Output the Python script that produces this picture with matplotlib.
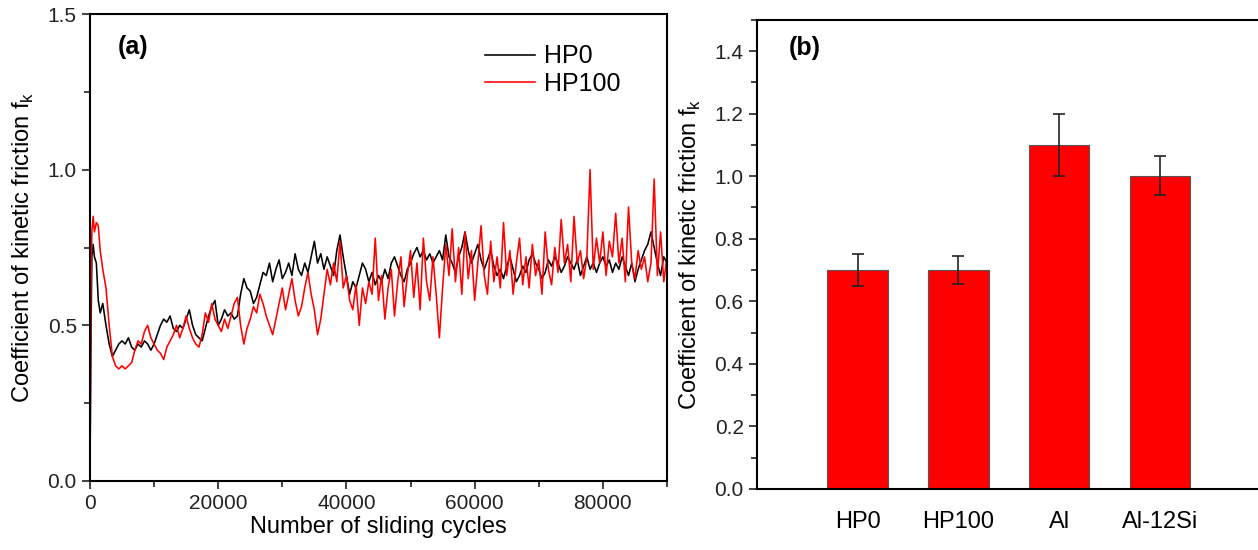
import numpy as np
import matplotlib
matplotlib.use("Agg")
import matplotlib.pyplot as plt
from matplotlib.ticker import MultipleLocator

plt.rcParams["font.family"] = ["Liberation Sans", "DejaVu Sans"]

# ================= DATA (a) =================
# running-in part, read point by point
EARLY_CYCLES = [0, 150, 300, 500, 700, 1000, 1300, 1600]
HP0_EARLY = [0.00, 0.45, 0.72, 0.76, 0.72, 0.70, 0.58, 0.54]
HP100_EARLY = [0.00, 0.60, 0.80, 0.85, 0.80, 0.83, 0.82, 0.74]

# steady part, one reading every 500 cycles from 2000 on
STEP_START = 2000
STEP = 500
HP0_VALS = [
    0.57, 0.50, 0.44, 0.40, 0.42, 0.44, 0.45, 0.44, 0.46, 0.43,
    0.42, 0.44, 0.43, 0.45, 0.44, 0.42, 0.44, 0.47, 0.50, 0.52,
    0.51, 0.53, 0.49, 0.48, 0.50, 0.49, 0.52, 0.55, 0.50, 0.47,
    0.46, 0.45, 0.49, 0.53, 0.56, 0.58, 0.50, 0.52, 0.55, 0.53,
    0.54, 0.52, 0.53, 0.60, 0.65, 0.62, 0.61, 0.57, 0.59, 0.63,
    0.67, 0.66, 0.70, 0.64, 0.68, 0.71, 0.65, 0.67, 0.70, 0.66,
    0.73, 0.68, 0.66, 0.70, 0.67, 0.72, 0.77, 0.70, 0.73, 0.68,
    0.72, 0.69, 0.66, 0.74, 0.79, 0.72, 0.66, 0.60, 0.64, 0.62,
    0.66, 0.70, 0.68, 0.64, 0.67, 0.63, 0.66, 0.64, 0.68, 0.65,
    0.70, 0.72, 0.69, 0.66, 0.64, 0.68, 0.70, 0.73, 0.75, 0.72,
    0.74, 0.71, 0.73, 0.70, 0.72, 0.74, 0.71, 0.79, 0.72, 0.70,
    0.67, 0.72, 0.75, 0.80, 0.74, 0.70, 0.73, 0.76, 0.71, 0.68,
    0.71, 0.74, 0.69, 0.66, 0.68, 0.65, 0.69, 0.72, 0.68, 0.64,
    0.66, 0.69, 0.67, 0.71, 0.73, 0.70, 0.68, 0.65, 0.67, 0.71,
    0.69, 0.72, 0.70, 0.67, 0.69, 0.72, 0.70, 0.68, 0.71, 0.66,
    0.69, 0.72, 0.68, 0.70, 0.67, 0.70, 0.72, 0.69, 0.71, 0.67,
    0.70, 0.68, 0.72, 0.69, 0.66, 0.70, 0.64, 0.68, 0.71, 0.74,
    0.76, 0.80, 0.75, 0.70, 0.66, 0.72, 0.70,
]
HP100_VALS = [
    0.68, 0.62, 0.50, 0.40, 0.37, 0.36, 0.37, 0.36, 0.37, 0.38,
    0.42, 0.45, 0.44, 0.48, 0.50, 0.46, 0.44, 0.42, 0.41, 0.39,
    0.43, 0.45, 0.47, 0.50, 0.46, 0.49, 0.53, 0.49, 0.46, 0.44,
    0.43, 0.47, 0.54, 0.51, 0.57, 0.52, 0.50, 0.48, 0.52, 0.49,
    0.53, 0.57, 0.59, 0.50, 0.44, 0.49, 0.52, 0.56, 0.54, 0.60,
    0.57, 0.53, 0.50, 0.47, 0.52, 0.57, 0.62, 0.55, 0.60, 0.65,
    0.58, 0.53, 0.56, 0.62, 0.67, 0.60, 0.55, 0.47, 0.52, 0.60,
    0.68, 0.63, 0.70, 0.64, 0.77, 0.62, 0.66, 0.58, 0.55, 0.63,
    0.50, 0.62, 0.57, 0.64, 0.60, 0.78, 0.58, 0.66, 0.52, 0.62,
    0.68, 0.53, 0.64, 0.72, 0.56, 0.66, 0.74, 0.59, 0.70, 0.55,
    0.78, 0.64, 0.58, 0.72, 0.60, 0.46, 0.62, 0.76, 0.66, 0.81,
    0.64, 0.75, 0.60, 0.80, 0.65, 0.74, 0.58, 0.70, 0.82, 0.66,
    0.60, 0.77, 0.64, 0.72, 0.62, 0.83, 0.66, 0.74, 0.60, 0.70,
    0.78, 0.63, 0.72, 0.62, 0.76, 0.66, 0.71, 0.60, 0.80, 0.68,
    0.63, 0.75, 0.67, 0.84, 0.70, 0.76, 0.64, 0.85, 0.70, 0.74,
    0.65, 0.72, 1.00, 0.68, 0.78, 0.70, 0.80, 0.66, 0.77, 0.72,
    0.86, 0.70, 0.78, 0.64, 0.88, 0.70, 0.65, 0.74, 0.68, 0.72,
    0.64, 0.70, 0.97, 0.66, 0.80, 0.64, 0.72,
]

# ================= DATA (b) =================
MATERIALS = ["HP0", "HP100", "Al", "Al-12Si"]
MEAN_FK = [0.70, 0.70, 1.10, 1.00]
ERR_LOW = [0.05, 0.045, 0.10, 0.06]
ERR_HIGH = [0.05, 0.045, 0.10, 0.063]


def series(early_x, early_y, vals):
    x = np.concatenate([early_x, STEP_START + STEP * np.arange(len(vals))])
    y = np.concatenate([early_y, vals])
    return x, y


fig = plt.figure(figsize=(12.58, 5.5), dpi=100)

# ---------- (a) friction vs cycles ----------
ax1 = fig.add_axes([0.0715, 0.1255, 0.4587, 0.849])
x0, y0 = series(EARLY_CYCLES, HP0_EARLY, HP0_VALS)
x1, y1 = series(EARLY_CYCLES, HP100_EARLY, HP100_VALS)
ax1.plot(x0, y0, color="black", lw=1.15, label="HP0")
ax1.plot(x1, y1, color="#ff0000", lw=1.15, label="HP100")
ax1.set_xlim(0, 90000)
ax1.set_ylim(0, 1.5)
ax1.xaxis.set_major_locator(MultipleLocator(20000))
ax1.xaxis.set_minor_locator(MultipleLocator(10000))
ax1.yaxis.set_major_locator(MultipleLocator(0.5))
ax1.yaxis.set_minor_locator(MultipleLocator(0.25))
ax1.yaxis.set_major_formatter(plt.FormatStrFormatter("%.1f"))
ax1.tick_params(which="both", direction="out", top=False, right=False,
                labelsize=15, width=1.2, colors="#222222")
ax1.tick_params(which="major", length=6)
ax1.tick_params(which="minor", length=4)
for sp in ax1.spines.values():
    sp.set_linewidth(1.5)
ax1.set_xlabel("Number of sliding cycles", fontsize=17, labelpad=2)
ax1.set_ylabel("Coefficient of kinetic friction f$_\\mathregular{k}$", fontsize=17, labelpad=8)
ax1.text(0.0745, 0.929, "(a)", transform=ax1.transAxes, fontsize=18,
         fontweight="bold", ha="center", va="center")
ax1.legend(loc="upper left", bbox_to_anchor=(0.6846, 0.935), frameon=False,
           fontsize=18, handlelength=2.0, handletextpad=0.35, labelspacing=0.15,
           borderpad=0, borderaxespad=0)

# ---------- (b) mean friction per material ----------
ax2 = fig.add_axes([0.6017, 0.111, 0.4003, 0.853])
pos = np.arange(1, len(MATERIALS) + 1)
ax2.bar(pos, MEAN_FK, width=0.6, color="#ff0000", edgecolor="#555555", lw=0.8,
        yerr=[ERR_LOW, ERR_HIGH], error_kw=dict(ecolor="#222222", elinewidth=1.2,
                                               capsize=4, capthick=1.2))
ax2.set_xlim(0, 5)
ax2.set_ylim(0, 1.5)
ax2.set_xticks(pos)
ax2.set_xticklabels(MATERIALS)
ax2.yaxis.set_major_locator(MultipleLocator(0.2))
ax2.yaxis.set_minor_locator(MultipleLocator(0.1))
ax2.yaxis.set_major_formatter(plt.FormatStrFormatter("%.1f"))
ax2.tick_params(axis="y", which="both", direction="out", right=False,
                labelsize=15, width=1.2, colors="#222222")
ax2.tick_params(axis="y", which="major", length=6)
ax2.tick_params(axis="y", which="minor", length=4)
ax2.tick_params(axis="x", length=0, pad=16, labelsize=17)
for sp in ax2.spines.values():
    sp.set_linewidth(1.5)
ax2.set_ylabel("Coefficient of kinetic friction f$_\\mathregular{k}$", fontsize=17, labelpad=8)
ax2.text(0.095, 0.94, "(b)", transform=ax2.transAxes, fontsize=18,
         fontweight="bold", ha="center", va="center")

fig.savefig("out.png", dpi=100)
